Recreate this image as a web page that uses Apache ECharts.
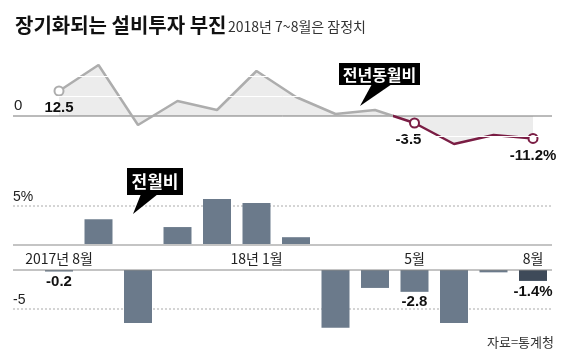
<!DOCTYPE html>
<html><head><meta charset="utf-8">
<script src="https://cdn.jsdelivr.net/npm/echarts@6/dist/echarts.min.js"></script>
<style>html,body{margin:0;padding:0;background:#fff}#c{width:570px;height:364px}</style>
</head><body><div id="c"></div>
<script>
// ---- data ----
const months = ['2017.8','2017.9','2017.10','2017.11','2017.12','2018.1','2018.2','2018.3','2018.4','2018.5','2018.6','2018.7','2018.8'];
const yoy = [12.5, 25.5, -4.5, 7.5, 3, 22.5, 9.5, 1, 3, -3.5, -14, -9.5, -11.2];   // 전년동월비
const mom = [-0.2, 3.3, -6.8, 2.3, 5.9, 5.4, 1.0, -7.4, -2.3, -2.8, -6.8, -0.3, -1.4]; // 전월비
const tickLabels = {0:'2017년 8월', 5:'18년 1월', 9:'5월', 12:'8월'};
const yoyLabels = {0:'12.5', 9:'-3.5', 12:'-11.2%'};
const momLabels = {0:'-0.2', 9:'-2.8', 12:'-1.4%'};
const yoyGrid = [10, 20, -10];
const momGrid = [5, -5];
const momGridText = ['5%', '-5'];

// ---- style ----
const KR = "'Noto Sans CJK KR', sans-serif";
const NUM = "'Liberation Sans Narrow', 'Liberation Sans', 'Noto Sans CJK KR', sans-serif";
const GRAY = '#adadad', MAROON = '#7a1d44', BAR = '#6b7a8b', BAR_DARK = '#3e4a59';
const L = 13, R = 552, STEP = 39.5, FIRST = 59;
const X_MIN = -(FIRST - L) / STEP, X_MAX = X_MIN + (R - L) / STEP;

let cross = yoy.length - 1;
for (let i = yoy.length - 2; i >= 0; i--) {
  if (yoy[i] >= 0 && yoy[i + 1] < 0) { cross = i + yoy[i] / (yoy[i] - yoy[i + 1]); break; }
}
const colorAt = i => (i < cross ? GRAY : MAROON);

const chart = echarts.init(document.getElementById('c'));
const xa = idx => ({type:'value', gridIndex: idx, min: X_MIN, max: X_MAX, show: false});

const lineData = yoy.map((v, i) => {
  const lab = yoyLabels[i];
  return {
    value: [i, v],
    symbol: lab ? 'circle' : 'none',
    symbolSize: 9,
    itemStyle: {color: '#fff', borderColor: colorAt(i), borderWidth: 2},
    label: lab ? {show: true, formatter: lab, position: 'bottom', distance: 4,
                  offset: i === 9 ? [-6, 0] : [0, 0]} : {show: false}
  };
});
const posData = mom.map((v, i) => [i, v]).filter(d => d[1] >= 0);
const negData = mom.map((v, i) => ({
  value: [i, v],
  itemStyle: {color: i === mom.length - 1 ? BAR_DARK : BAR},
  label: momLabels[i] ? {show: true, formatter: momLabels[i], position: 'bottom', distance: 3} : {show: false}
})).filter(d => d.value[1] < 0);

const numLabel = {fontFamily: NUM, fontSize: 15, fontWeight: 'bold', color: '#111'};

chart.setOption({
  animation: false,
  backgroundColor: '#fff',
  grid: [
    {left: L, right: 570 - R, top: 56, height: 100},
    {left: L, right: 570 - R, top: 245 - 7 * 7.8, height: 7 * 7.8},
    {left: L, right: 570 - R, top: 270, height: 8 * 7.8}
  ],
  xAxis: [xa(0), xa(1), xa(2)],
  yAxis: [
    {type:'value', gridIndex:0, min:-20, max:30, show:false},
    {type:'value', gridIndex:1, min:0, max:7, show:false},
    {type:'value', gridIndex:2, min:-8, max:0, show:false}
  ],
  series: [
    {type:'line', xAxisIndex:0, yAxisIndex:0, z:1, symbol:'none', silent:true,
     data: yoy.map((v, i) => [i, v]), lineStyle:{width:0},
     areaStyle:{color:'#ececec', origin:0, opacity:1}},
    {type:'line', xAxisIndex:0, yAxisIndex:0, z:2, data:[], silent:true,
     markLine:{silent:true, symbol:'none', label:{show:false},
       lineStyle:{color:'#fff', width:1, type:'solid'},
       data: yoyGrid.map(v => ({yAxis: v}))}},
    {type:'line', xAxisIndex:0, yAxisIndex:0, z:4, data: lineData, showSymbol:true,
     lineStyle:{width:2.5, color: GRAY}, label: numLabel},
    {type:'bar', xAxisIndex:1, yAxisIndex:1, barWidth:28, data: posData,
     itemStyle:{color: BAR}},
    {type:'bar', xAxisIndex:2, yAxisIndex:2, barWidth:28, data: negData,
     itemStyle:{color: BAR}, label: numLabel}
  ]
});

// ---- line colour split where the series crosses zero ----
const xc = chart.convertToPixel({xAxisIndex:0}, cross);
const t = (xc - L) / (R - L);
chart.setOption({series: [{}, {}, {lineStyle: {color: new echarts.graphic.LinearGradient(L, 0, R, 0, [
  {offset:0, color:GRAY}, {offset:t, color:GRAY}, {offset:t, color:MAROON}, {offset:1, color:MAROON}], true)}}]});

// ---- axis lines, labels and annotations placed from the scales ----
const px = (axis, v) => chart.convertToPixel(axis, v);
const y0 = px({yAxisIndex:0}, 0);
const yPos0 = px({yAxisIndex:1}, 0);
const yNeg0 = px({yAxisIndex:2}, 0);
const g = [];
g.push({type:'line', z:3, shape:{x1:L, y1:y0, x2:R, y2:y0}, style:{stroke:'#777', lineWidth:1}});
g.push({type:'text', z:5, x:L + 1, y:y0 - 3, style:{text:'0', font:`15px ${NUM}`, fill:'#222', textVerticalAlign:'bottom'}});
g.push({type:'line', z:3, shape:{x1:L, y1:yPos0, x2:R, y2:yPos0}, style:{stroke:'#c4c4c4', lineWidth:2}});
g.push({type:'line', z:3, shape:{x1:L, y1:yNeg0, x2:R, y2:yNeg0}, style:{stroke:'#888', lineWidth:1}});
momGrid.forEach((v, k) => {
  const y = v > 0 ? px({yAxisIndex:1}, v) : px({yAxisIndex:2}, v);
  g.push({type:'line', z:0, shape:{x1:L, y1:y, x2:R, y2:y}, style:{stroke:'#aaa', lineWidth:1, lineDash:[2,2]}});
  g.push({type:'text', z:5, x:L, y:y - 2, style:{text:momGridText[k], font:`14px ${NUM}`, fill:'#222', textVerticalAlign:'bottom'}});
});
Object.keys(tickLabels).forEach(k => {
  const x = px({xAxisIndex:1}, Number(k));
  g.push({type:'text', z:5, x:x, y:(yPos0 + yNeg0) / 2 + 1, style:{text:tickLabels[k], font:`14px ${KR}`, fill:'#222', textAlign:'center', textVerticalAlign:'middle'}});
});
// title
g.push({type:'text', x:15, y:25, style:{text:'장기화되는 설비투자 부진', font:`bold 20px ${KR}`, fill:'#111', textVerticalAlign:'middle'}});
g.push({type:'text', x:228, y:27, style:{text:'2018년 7~8월은 잠정치', font:`14px ${KR}`, fill:'#333', textVerticalAlign:'middle'}});
// callouts
g.push({type:'rect', z:6, shape:{x:339, y:63, width:81, height:22}, style:{fill:'#000'}});
g.push({type:'polygon', z:6, shape:{points:[[372,84],[392,84],[360,106]]}, style:{fill:'#000'}});
g.push({type:'text', z:7, x:379.5, y:74.5, style:{text:'전년동월비', font:`bold 16px ${KR}`, fill:'#fff', textAlign:'center', textVerticalAlign:'middle'}});
g.push({type:'rect', z:6, shape:{x:127, y:168, width:56, height:27}, style:{fill:'#000'}});
g.push({type:'polygon', z:6, shape:{points:[[141,194],[158,194],[133,214]]}, style:{fill:'#000'}});
g.push({type:'text', z:7, x:155, y:181.5, style:{text:'전월비', font:`bold 17px ${KR}`, fill:'#fff', textAlign:'center', textVerticalAlign:'middle'}});
// source
g.push({type:'text', x:554, y:342, style:{text:'자료=통계청', font:`13px ${KR}`, fill:'#333', textAlign:'right', textVerticalAlign:'middle'}});
chart.setOption({graphic: g});
</script>
</body></html>
